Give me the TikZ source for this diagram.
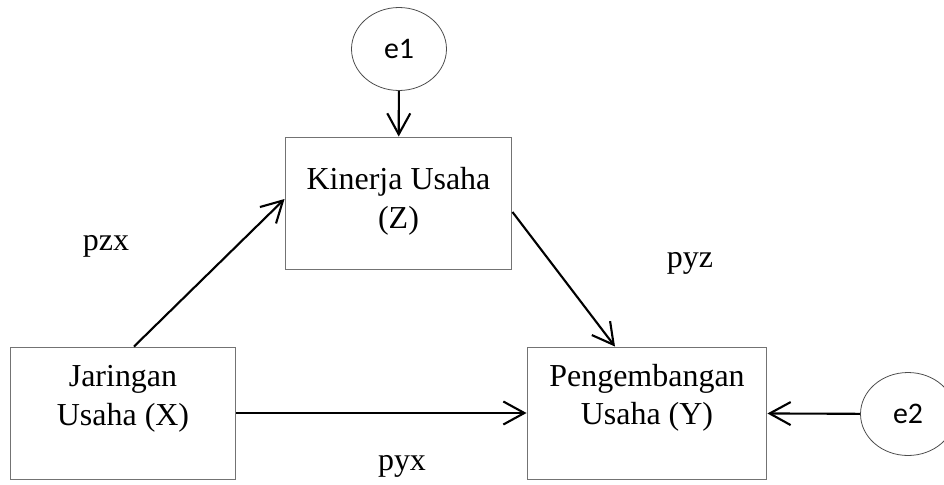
\documentclass[tikz,border=0pt]{standalone}
\usepackage{fontspec}
\setmainfont{Liberation Serif}
\newfontfamily\errfont{Carlito}
\usetikzlibrary{arrows.meta,shapes.geometric}
\begin{document}
\begin{tikzpicture}[
x=0.02cm, y=-0.02cm,
box/.style={draw=black!55, line width=0.55pt, align=center, font=\fontsize{18.2}{21.8}\selectfont, minimum height=2.64cm, inner sep=0pt},
err/.style={draw=black!70, ellipse, line width=0.45pt, minimum width=1.9cm, minimum height=1.66cm, font=\errfont\fontsize{17}{20}\selectfont, inner sep=0pt},
coef/.style={font=\fontsize{18.2}{21.8}\selectfont},
arrow/.style={-{Straight Barb[length=4.2mm, width=4.6mm]}, line width=1.2pt}
]
\useasboundingbox (0,0) rectangle (944,484);
\node[box, minimum width=4.54cm, text depth=0.2cm] (kin) at (398.5,203) {Kinerja Usaha\\(Z)};
\node[box, minimum width=4.52cm, text depth=0.7cm] (jar) at (123,413) {Jaringan\\Usaha (X)};
\node[box, minimum width=4.8cm, text depth=0.75cm] (peng) at (647,413) {Pengembangan\\Usaha (Y)};
\node[err] (e1) at (399,49) {e1};
\node[err] (e2) at (908,414) {e2};
\node[coef] (pzx) at (106,246) {pzx};
\node[coef] (pyz) at (690,263) {pyz};
\node[coef] (pyx) at (402,466) {pyx};
\draw[arrow] (e1) -- (kin);
\draw[arrow] ([xshift=0.22cm]jar.north) -- ([yshift=0.08cm]kin.west);
\draw[arrow] ([yshift=-0.18cm]kin.east) -- ([xshift=-0.64cm]peng.north);
\draw[arrow] (jar) -- (peng);
\draw[arrow] (e2) -- (peng);
\end{tikzpicture}
\end{document}
